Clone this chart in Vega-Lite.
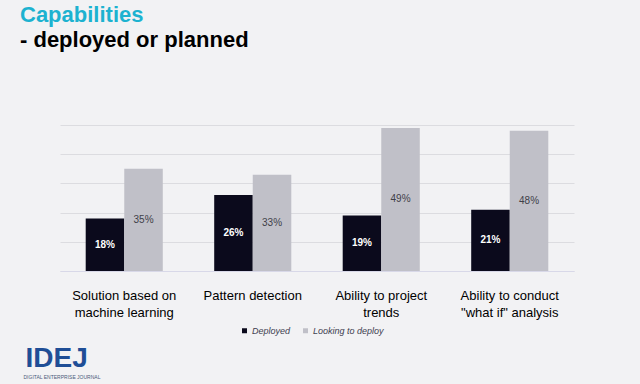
{
  "$schema": "https://vega.github.io/schema/vega-lite/v6.json",
  "width": 514,
  "height": 146,
  "autosize": "none",
  "padding": {"left": 60, "top": 125, "right": 66, "bottom": 113},
  "background": "#F2F2F4",
  "config": {"view": {"stroke": null}, "font": "Liberation Sans"},
  "title": {
    "text": "Capabilities",
    "subtitle": "- deployed or planned",
    "anchor": "start",
    "frame": "group",
    "dx": -40,
    "offset": 73,
    "font": "Liberation Sans",
    "fontSize": 22,
    "fontWeight": "bold",
    "color": "#1DB2D0",
    "subtitleFont": "Liberation Sans",
    "subtitleFontSize": 22,
    "subtitleFontWeight": "bold",
    "subtitleColor": "#000000",
    "subtitlePadding": 3
  },
  "data": {
    "values": [
      {"capability": "Solution based on|machine learning", "series": "Deployed", "value": 0.18},
      {"capability": "Solution based on|machine learning", "series": "Looking to deploy", "value": 0.35},
      {"capability": "Pattern detection", "series": "Deployed", "value": 0.26},
      {"capability": "Pattern detection", "series": "Looking to deploy", "value": 0.33},
      {"capability": "Ability to project|trends", "series": "Deployed", "value": 0.19},
      {"capability": "Ability to project|trends", "series": "Looking to deploy", "value": 0.49},
      {"capability": "Ability to conduct|\"what if\" analysis", "series": "Deployed", "value": 0.21},
      {"capability": "Ability to conduct|\"what if\" analysis", "series": "Looking to deploy", "value": 0.48}
    ]
  },
  "transform": [{"calculate": "datum.value / 2", "as": "mid"}],
  "encoding": {
    "x": {
      "field": "capability",
      "type": "nominal",
      "sort": null,
      "scale": {"paddingInner": 0.4, "paddingOuter": 0.2},
      "axis": {
        "labelExpr": "split(datum.label, '|')",
        "labelAngle": 0,
        "labelFont": "Liberation Sans",
        "labelFontSize": 13,
        "labelColor": "#000000",
        "labelLineHeight": 17,
        "labelPadding": 18,
        "labelBaseline": "top",
        "ticks": false,
        "domainColor": "#D8D8E8",
        "domainWidth": 1,
        "title": "IDEJ",
        "titleFont": "Liberation Sans",
        "titleFontSize": 28,
        "titleFontWeight": "bold",
        "titleColor": "#1F4E96",
        "titleAnchor": "start",
        "titleAlign": "left",
        "titleBaseline": "alphabetic",
        "titleX": -35,
        "titleY": 95
      }
    },
    "xOffset": {"field": "series", "sort": ["Deployed", "Looking to deploy"]}
  },
  "layer": [
    {
      "mark": {"type": "bar"},
      "encoding": {
        "y": {
          "field": "value",
          "type": "quantitative",
          "scale": {"domain": [0, 0.5]},
          "axis": {
            "grid": true,
            "gridColor": "#DCDCE0",
            "labels": false,
            "ticks": false,
            "domain": false,
            "tickCount": 5,
            "title": "DIGITAL ENTERPRISE JOURNAL",
            "titleAngle": 0,
            "titleFont": "Liberation Sans",
            "titleFontSize": 5,
            "titleFontWeight": "normal",
            "titleColor": "#4A5A7A",
            "titleAlign": "left",
            "titleBaseline": "alphabetic",
            "titleX": -37,
            "titleY": 253
          }
        },
        "color": {
          "field": "series",
          "type": "nominal",
          "scale": {"domain": ["Deployed", "Looking to deploy"], "range": ["#0B0A1C", "#C0C0C8"]},
          "legend": {
            "orient": "none",
            "legendX": 180,
            "legendY": 201,
            "direction": "horizontal",
            "title": null,
            "symbolType": "square",
            "symbolSize": 25,
            "symbolStrokeWidth": 0,
            "labelFont": "Liberation Sans",
            "labelFontSize": 9,
            "labelFontStyle": "italic",
            "labelColor": "#404050",
            "labelOffset": 3,
            "columnPadding": 10
          }
        }
      }
    },
    {
      "transform": [{"filter": "datum.series === 'Deployed'"}],
      "mark": {"type": "text", "color": "#FFFFFF", "fontWeight": "bold", "fontSize": 10, "font": "Liberation Sans"},
      "encoding": {
        "y": {"field": "mid", "type": "quantitative"},
        "text": {"field": "value", "type": "quantitative", "format": ".0%"}
      }
    },
    {
      "transform": [{"filter": "datum.series === 'Looking to deploy'"}],
      "mark": {"type": "text", "color": "#404048", "fontSize": 10, "font": "Liberation Sans"},
      "encoding": {
        "y": {"field": "mid", "type": "quantitative"},
        "text": {"field": "value", "type": "quantitative", "format": ".0%"}
      }
    }
  ]
}
